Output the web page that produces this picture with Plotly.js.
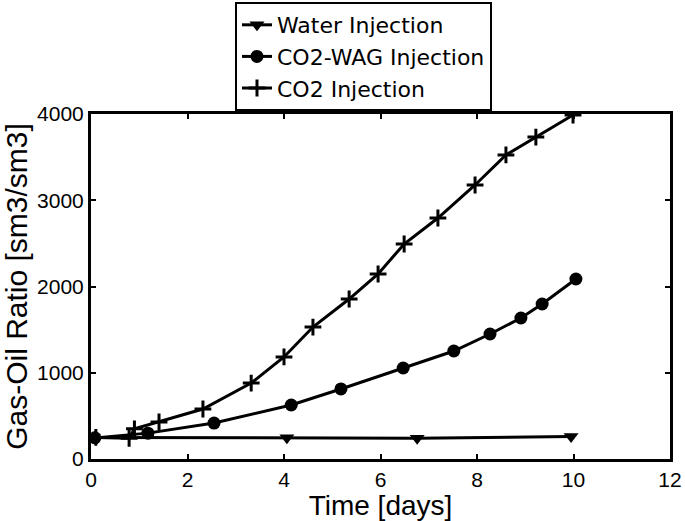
<!DOCTYPE html>
<html>
<head>
<meta charset="utf-8">
<script src="https://cdn.plot.ly/plotly-3.0.1.min.js"></script>
<style>html,body{margin:0;padding:0;background:#fff;}#chart{width:685px;height:521px;}</style>
</head>
<body>
<div id="chart"></div>
<script>
// Data
const waterTime = [0.05, 4.06, 6.76, 9.95];
const waterGOR  = [250, 245, 240, 262];

const wagTime = [0.08, 1.18, 2.55, 4.15, 5.18, 6.47, 7.52, 8.27, 8.91, 9.35, 10.05];
const wagGOR  = [245, 300, 417, 626, 812, 1055, 1252, 1449, 1635, 1797, 2087];

const co2Time = [0.1, 0.79, 0.9, 1.41, 2.32, 3.32, 4.0, 4.6, 5.35, 5.95, 6.49, 7.19, 7.96, 8.6, 9.22, 9.99];
const co2GOR  = [250, 240, 350, 430, 580, 880, 1183, 1530, 1855, 2145, 2493, 2794, 3177, 3525, 3733, 3988];

const xTicks = [0, 2, 4, 6, 8, 10, 12];
const yTicks = [0, 1000, 2000, 3000, 4000];

const fontFam = 'Liberation Sans, Arial, sans-serif';

const traces = [
  {x: waterTime, y: waterGOR, name: 'Water Injection', mode: 'lines+markers',
   line: {color: '#000', width: 3}, marker: {symbol: 'triangle-down', size: 13, color: '#000'}},
  {x: wagTime, y: wagGOR, name: 'CO2-WAG Injection', mode: 'lines+markers',
   line: {color: '#000', width: 3}, marker: {symbol: 'circle', size: 13, color: '#000'}},
  {x: co2Time, y: co2GOR, name: 'CO2 Injection', mode: 'lines+markers',
   line: {color: '#000', width: 3}, marker: {symbol: 'cross-thin-open', size: 12, color: '#000', line: {color: '#000', width: 3}}}
];

const layout = {
  width: 685, height: 521,
  margin: {l: 91, r: 15, t: 114, b: 62, autoexpand: false},
  paper_bgcolor: '#fff', plot_bgcolor: '#fff',
  font: {family: fontFam, color: '#000', size: 21},
  showlegend: true,
  legend: {x: 0.2487, y: 1.3246, xanchor: 'left', yanchor: 'top',
           bordercolor: '#000', borderwidth: 2, bgcolor: '#fff', itemwidth: 30,
           font: {size: 22, family: 'DejaVu Sans, sans-serif', color: '#000'}, tracegroupgap: 0},
  xaxis: {range: [0, 12], tickvals: xTicks, ticktext: xTicks.map(String),
          showgrid: false, zeroline: false, showline: true, linecolor: '#000', linewidth: 3,
          mirror: 'allticks', ticks: 'inside', ticklen: 5, tickwidth: 2, tickcolor: '#000',
          tickfont: {size: 21}, title: {text: 'Time [days]', font: {size: 28}, standoff: 2}},
  yaxis: {range: [0, 4000], tickvals: yTicks, ticktext: yTicks.map(String),
          showgrid: false, zeroline: false, showline: true, linecolor: '#000', linewidth: 3,
          mirror: 'allticks', ticks: 'inside', ticklen: 5, tickwidth: 2, tickcolor: '#000',
          tickfont: {size: 21}, title: {text: 'Gas-Oil Ratio [sm3/sm3]', font: {size: 30}}}
};

Plotly.newPlot('chart', traces, layout, {displayModeBar: false, staticPlot: true});
</script>
</body>
</html>
